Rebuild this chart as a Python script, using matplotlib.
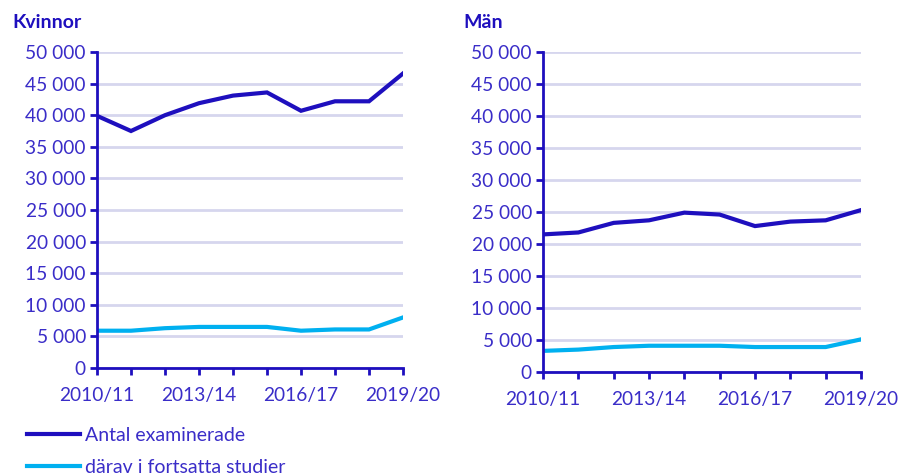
import matplotlib.pyplot as plt
from matplotlib.lines import Line2D
from matplotlib.ticker import FuncFormatter

years = ['2010/11', '2011/12', '2012/13', '2013/14', '2014/15',
         '2015/16', '2016/17', '2017/18', '2018/19', '2019/20']
tick_labels = ['2010/11', '', '', '2013/14', '', '', '2016/17', '', '', '2019/20']

kvinnor_exam = [39900, 37500, 40000, 41900, 43100, 43600, 40700, 42200, 42200, 46600]
kvinnor_fort = [5900, 5900, 6300, 6500, 6500, 6500, 5900, 6100, 6100, 8000]
man_exam = [21500, 21800, 23300, 23700, 24900, 24600, 22800, 23500, 23700, 25300]
man_fort = [3300, 3500, 3900, 4100, 4100, 4100, 3900, 3900, 3900, 5100]

dark = '#1E0FBE'
light = '#00B0F0'
text_c = '#3A2DC8'
grid_c = '#D6D6EE'

plt.rcParams['font.family'] = ['Lato', 'DejaVu Sans']

fig = plt.figure(figsize=(9.02, 4.75), dpi=100)
ax1 = fig.add_axes([97 / 902, 1 - 368 / 475, 306 / 902, 316 / 475])
ax2 = fig.add_axes([543 / 902, 1 - 372 / 475, 318 / 902, 320 / 475])

fmt = FuncFormatter(lambda v, p: f'{int(v):,}'.replace(',', ' '))

for ax, exam, fort in [(ax1, kvinnor_exam, kvinnor_fort), (ax2, man_exam, man_fort)]:
    x = range(len(years))
    ax.plot(x, exam, color=dark, lw=3, solid_joinstyle='miter', zorder=3)
    ax.plot(x, fort, color=light, lw=3, solid_joinstyle='miter', zorder=3)
    ax.set_xlim(0, len(years) - 1)
    ax.set_ylim(0, 50000)
    ax.set_yticks(range(0, 50001, 5000))
    ax.yaxis.set_major_formatter(fmt)
    ax.set_xticks(list(x))
    ax.set_xticklabels(tick_labels)
    ax.grid(axis='y', color=grid_c, lw=2, zorder=0)
    ax.set_axisbelow(True)
    for s in ['top', 'right']:
        ax.spines[s].set_visible(False)
    for s in ['left', 'bottom']:
        ax.spines[s].set_color(dark)
        ax.spines[s].set_linewidth(2)
        ax.spines[s].set_zorder(4)
    ax.tick_params(axis='both', colors=dark, width=2, length=5, labelcolor=text_c,
                   labelsize=13.8)
    ax.tick_params(axis='x', pad=9)
    ax.tick_params(axis='y', pad=3)

fig.text(12 / 902, 1 - 22 / 475, 'Kvinnor', color=dark, fontsize=14,
         fontweight='bold', va='center', ha='left')
fig.text(463 / 902, 1 - 22 / 475, 'Män', color=dark, fontsize=14,
         fontweight='bold', va='center', ha='left')

handles = [Line2D([], [], color=dark, lw=3), Line2D([], [], color=light, lw=3)]
fig.legend(handles, ['Antal examinerade', 'därav i fortsatta studier'],
           loc='upper left', bbox_to_anchor=(27 / 902, 1 - 427 / 475),
           frameon=False, fontsize=14, labelcolor=text_c, handlelength=2.75,
           handletextpad=0.25, labelspacing=0.75, borderaxespad=0, borderpad=0)

fig.savefig('out.png', dpi=100)
